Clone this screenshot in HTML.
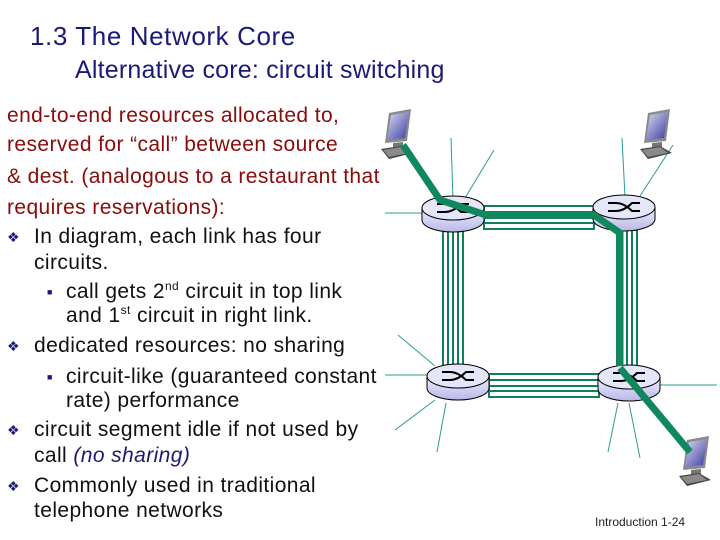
<!DOCTYPE html>
<html><head><meta charset="utf-8"><style>
body{margin:0;width:720px;height:540px;background:#fff;position:relative;overflow:hidden;font-family:"Liberation Sans",sans-serif}
.t{position:absolute;white-space:nowrap;line-height:24px;font-size:21px;letter-spacing:0.4px;color:#111}
.r{color:#8b0a0a}
.h{position:absolute;white-space:nowrap;color:#1a1a78;font-size:26px;letter-spacing:0.6px;line-height:28px}
.b{position:absolute;color:#1a1a78;font-size:14px;line-height:24px}
.s{position:absolute;color:#1a1a78;font-size:9px;line-height:24px}
sup{font-size:12px;line-height:0;vertical-align:8px}
</style></head><body>
<div class="h" style="left:30px;top:22px">1.3 The Network Core</div>
<div class="h" style="left:75px;top:56px;letter-spacing:0.2px;font-size:25px">Alternative core: circuit switching</div>
<div class="t r" style="left:7px;top:104px">end-to-end resources allocated to,</div>
<div class="t r" style="left:7px;top:133px">reserved for “call” between source</div>
<div class="t r" style="left:7px;top:165px">&amp; dest. (analogous to a restaurant that</div>
<div class="t r" style="left:7px;top:196px">requires reservations):</div>
<div class="b" style="left:7px;top:225px">❖</div><div class="t" style="left:34px;top:225px">In diagram, each link has four</div>
<div class="t" style="left:34px;top:251px">circuits.</div>
<div class="s" style="left:47px;top:280px">■</div><div class="t" style="left:66px;top:280px">call gets 2<sup>nd</sup> circuit in top link</div>
<div class="t" style="left:66px;top:304px">and 1<sup>st</sup> circuit in right link.</div>
<div class="b" style="left:7px;top:334px">❖</div><div class="t" style="left:34px;top:334px">dedicated resources: no sharing</div>
<div class="s" style="left:47px;top:365px">■</div><div class="t" style="left:66px;top:365px">circuit-like (guaranteed constant</div>
<div class="t" style="left:66px;top:389px">rate) performance</div>
<div class="b" style="left:7px;top:418px">❖</div><div class="t" style="left:34px;top:418px">circuit segment idle if not used by</div>
<div class="t" style="left:34px;top:444px">call <i style="color:#1a1a78">(no sharing)</i></div>
<div class="b" style="left:7px;top:474px">❖</div><div class="t" style="left:34px;top:474px">Commonly used in traditional</div>
<div class="t" style="left:34px;top:499px">telephone networks</div>
<div class="t" style="left:595px;top:510px;font-size:12px;letter-spacing:0;color:#222">Introduction 1-24</div>
<svg width="720" height="540" style="position:absolute;left:0;top:0">
<defs><linearGradient id="g" x1="0" y1="0" x2="0" y2="1"><stop offset="0" stop-color="#eeeeff"/><stop offset="1" stop-color="#b8b8e8"/></linearGradient>
<linearGradient id="sc" x1="0" y1="0" x2="1" y2="1"><stop offset="0" stop-color="#dcdcf4"/><stop offset="1" stop-color="#3a3aa0"/></linearGradient>
<g id="lap"><polygon points="8,0 30,-4 26,28 4,30" fill="#8a8a8a"/><polygon points="10,2 28,-1 24,25 6,27" fill="url(#sc)"/><polygon points="12,30 22,29 22,34 12,35" fill="#777"/><polygon points="0,36 20,33 32,40 8,46" fill="#444"/><polygon points="2,37 20,34 28,40 8,44" fill="#8a8a8a"/></g>
<g id="rt"><path d="M-31,0 v12 a31,12 0 0 0 62,0 v-12" fill="url(#g)" stroke="#000" stroke-width="1"/><ellipse cx="0" cy="0" rx="31" ry="12" fill="#e6e6fa" stroke="#000" stroke-width="1"/><path d="M-16,-4 h8 q8,0 16,8 h8 M-16,4 h8 q8,0 16,-8 h8" fill="none" stroke="#000" stroke-width="2"/></g></defs>
<g stroke="#2a9d8f" stroke-width="1" fill="none">
<line x1="451" y1="138" x2="453" y2="200"/><line x1="465" y1="198" x2="494" y2="150"/><line x1="385" y1="213" x2="422" y2="213"/>
<line x1="622" y1="138" x2="625" y2="197"/><line x1="640" y1="196" x2="673" y2="145"/>
<line x1="398" y1="335" x2="435" y2="366"/><line x1="385" y1="375" x2="427" y2="375"/><line x1="395" y1="430" x2="435" y2="400"/><line x1="437" y1="452" x2="446" y2="403"/>
<line x1="618" y1="403" x2="608" y2="452"/><line x1="629" y1="403" x2="640" y2="458"/><line x1="660" y1="385" x2="717" y2="385"/>
</g>
<g stroke="#11805a" stroke-width="2" fill="#fff">
<rect x="484" y="206" width="110" height="23"/><line x1="484" y1="212" x2="594" y2="212"/><line x1="484" y1="218" x2="594" y2="218"/><line x1="484" y1="223" x2="594" y2="223"/>
<rect x="489" y="374" width="110" height="23"/><line x1="489" y1="380" x2="599" y2="380"/><line x1="489" y1="386" x2="599" y2="386"/><line x1="489" y1="391" x2="599" y2="391"/>
<rect x="443" y="230" width="20" height="138"/><line x1="448" y1="230" x2="448" y2="368"/><line x1="453" y1="230" x2="453" y2="368"/><line x1="458" y1="230" x2="458" y2="368"/>
<rect x="617" y="230" width="20" height="138"/><line x1="622" y1="230" x2="622" y2="368"/><line x1="627" y1="230" x2="627" y2="368"/><line x1="632" y1="230" x2="632" y2="368"/>
</g>
<use href="#rt" x="453" y="208"/><use href="#rt" x="624" y="207"/><use href="#rt" x="458" y="376"/><use href="#rt" x="629" y="377"/>
<use href="#lap" x="381" y="113"/><use href="#lap" x="640" y="113"/><use href="#lap" x="679" y="440"/>
<polyline points="403,145 440,200 486,215 594,215 620,233 620,366" fill="none" stroke="#11875e" stroke-width="7" stroke-linejoin="round"/>
<line x1="620" y1="368" x2="690" y2="452" stroke="#11875e" stroke-width="7"/>
</svg>
</body></html>
